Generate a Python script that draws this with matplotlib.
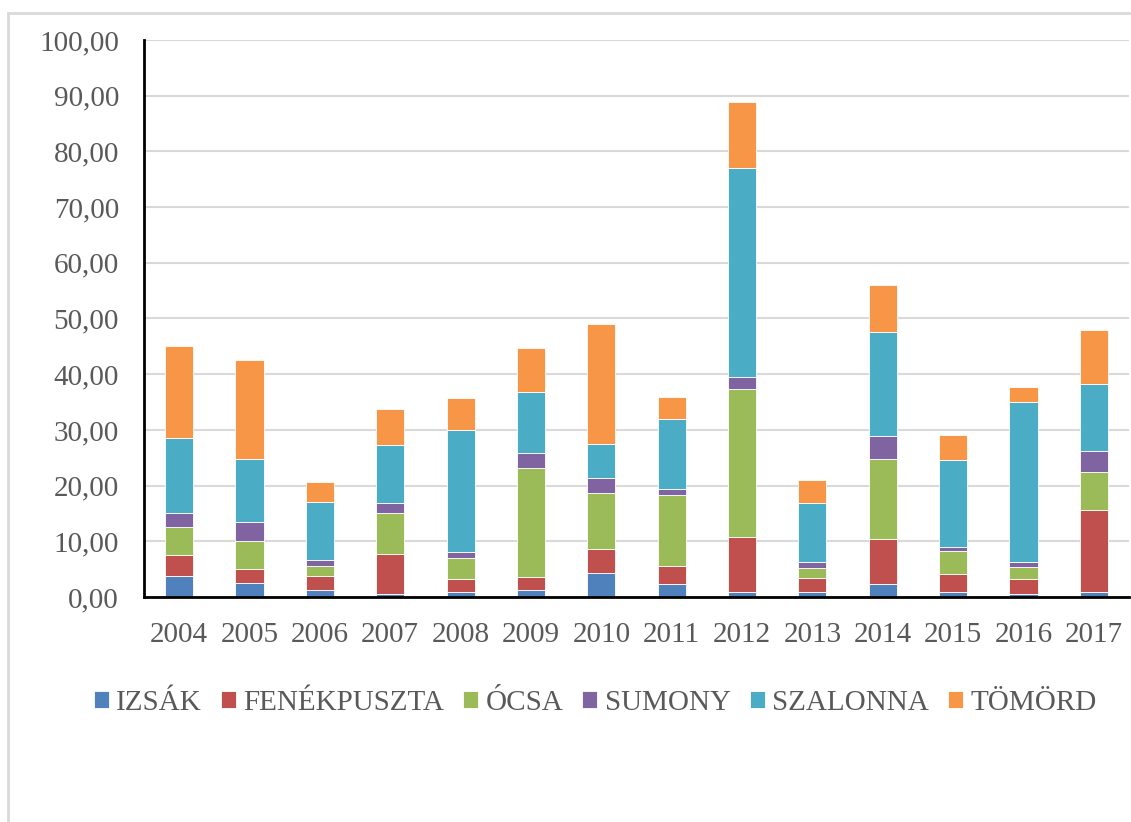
"""
plot.py

Stacked bar chart of yearly values per site (2004-2017).
"""

import numpy as np
import matplotlib.pyplot as plt
from matplotlib.patches import Rectangle
from matplotlib.ticker import FuncFormatter


# ============================================================
# Data
# ============================================================
years = ["2004", "2005", "2006", "2007", "2008", "2009", "2010",
         "2011", "2012", "2013", "2014", "2015", "2016", "2017"]

izsak = [3.8, 2.6, 1.2, 0.5, 0.85, 1.2, 4.25, 2.3, 0.85, 0.85, 2.3, 0.85, 0.6, 0.85]
fenekpuszta = [3.8, 2.5, 2.55, 7.3, 2.35, 2.35, 4.45, 3.3, 9.95, 2.5, 8.2, 3.25, 2.6, 14.85]
ocsa = [4.9, 4.95, 1.8, 7.2, 3.8, 19.55, 9.9, 12.65, 26.6, 1.9, 14.3, 4.15, 2.2, 6.75]
sumony = [2.6, 3.45, 1.15, 1.9, 1.0, 2.7, 2.7, 1.2, 2.15, 0.95, 4.1, 0.75, 0.95, 3.7]
szalonna = [13.5, 11.2, 10.4, 10.4, 21.9, 11.05, 6.1, 12.45, 37.45, 10.7, 18.7, 15.65, 28.6, 12.15]
tomord = [16.4, 17.8, 3.5, 6.45, 5.8, 7.9, 21.7, 3.95, 11.8, 4.1, 8.45, 4.45, 2.7, 9.6]

series_names = ["IZSÁK", "FENÉKPUSZTA", "ÓCSA", "SUMONY", "SZALONNA", "TÖMÖRD"]
series_values = [izsak, fenekpuszta, ocsa, sumony, szalonna, tomord]
colors = ["#4F81BD", "#C0504D", "#9BBB59", "#8064A2", "#4BACC6", "#F79646"]


def comma_fmt(v, _pos):
    return f"{v:.2f}".replace(".", ",")


def main():
    plt.rcParams["font.family"] = ["Liberation Serif", "DejaVu Serif"]
    text_color = "#595959"

    fig = plt.figure(figsize=(11.31, 8.22), dpi=100)
    # light frame around the chart area
    fig.patches.append(Rectangle((8 / 1131, -0.01), 1.02, 1 - 13 / 822 + 0.01,
                                 transform=fig.transFigure, fill=False,
                                 edgecolor="#D9D9D9", linewidth=2.0))

    ax = fig.add_axes([144 / 1131, 1 - 597 / 822, (1129 - 144) / 1131, (597 - 40) / 822])

    x = np.arange(len(years))
    bottom = np.zeros(len(years))
    for name, vals, col in zip(series_names, series_values, colors):
        vals = np.array(vals)
        ax.bar(x, vals, width=0.4, bottom=bottom, color=col, label=name,
               edgecolor="white", linewidth=0.6, zorder=3)
        bottom += vals

    ax.set_xlim(-0.5, len(years) - 0.5)
    ax.set_ylim(0, 100)
    ax.set_yticks(np.arange(0, 101, 10))
    ax.yaxis.set_major_formatter(FuncFormatter(comma_fmt))
    ax.set_xticks(x)
    ax.set_xticklabels(years)

    ax.grid(axis="y", color="#D9D9D9", linewidth=1.5, zorder=0)
    ax.set_axisbelow(True)
    for side in ("top", "right"):
        ax.spines[side].set_visible(False)
    for side in ("left", "bottom"):
        ax.spines[side].set_color("black")
        ax.spines[side].set_linewidth(2.0)
        ax.spines[side].set_zorder(4)

    ax.tick_params(axis="both", length=0, labelsize=21, colors=text_color)
    ax.tick_params(axis="y", pad=18)
    ax.tick_params(axis="x", pad=18)

    fig.legend(loc="center", bbox_to_anchor=(595 / 1131, 1 - 703 / 822),
               ncol=6, frameon=False, fontsize=21, labelcolor=text_color,
               handlelength=0.52, handleheight=0.52, handletextpad=0.25,
               columnspacing=0.65, borderaxespad=0)

    fig.savefig("out.png", dpi=100)


if __name__ == "__main__":
    main()
